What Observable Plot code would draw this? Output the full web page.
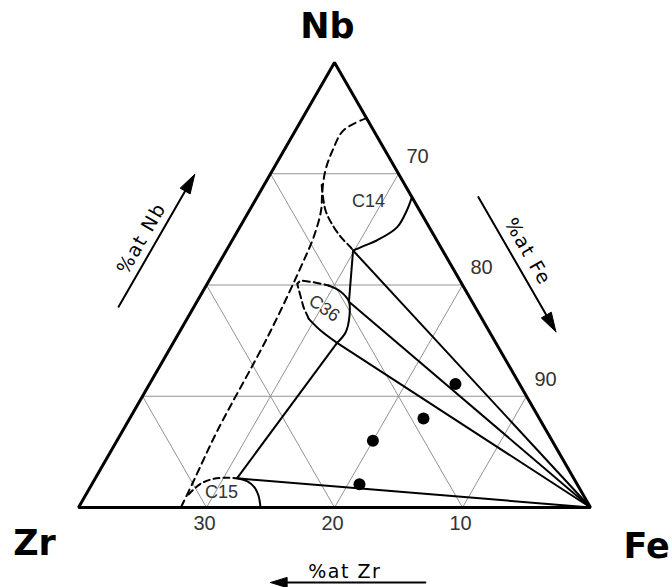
<!DOCTYPE html>
<html><head><meta charset="utf-8">
<script src="https://cdn.jsdelivr.net/npm/d3@7"></script>
<script src="https://cdn.jsdelivr.net/npm/@observablehq/plot@0.6"></script>
<style>body{margin:0;background:#fff} #chart svg{display:block}</style>
</head><body><div id="chart"></div>
<script>
// All compositions are [at.% Nb, at.% Zr]; Fe is the balance.
const gridLevels = [10, 20, 30];
const feTicks = [70, 80, 90];
const zrTicks = [30, 20, 10];
const windowCorners = [[0, 0], [0, 40], [40, 0]]; // Fe, 40Zr-60Fe, 40Nb-60Fe
const boundaryDashed = [[35.0,0],[33.9,2.35],[32.1,4.1],[30.3,5.56],[28.5,6.7],[26.7,7.7],[24.4,9.4],[22.2,11.3],[15.5,17.4],[6.9,25.7],[2.4,29.8],[0,32.0]];
const c14Dashed = [[29.0,6.5],[26.7,7.35],[25.2,7.45],[24.15,7.3],[23.4,7.05],[23.1,7.0]];
const c14Solid = [[23.1,7.0],[23.5,6.0],[24.0,4.7],[25.2,2.5],[26.7,1.0],[27.9,0]];
const c36Dashed = [[16.96,13.53],[18.0,13.42],[20.11,12.86],[20.40,12.46],[20.25,11.52],[19.96,10.49]];
const c36Solid = [[19.96,10.49],[19.42,9.82],[18.5,9.62],[17.17,10.25],[15.73,11.27],[14.8,12.4]];
const c36Lower = [[16.96,13.53],[15.91,13.13],[14.8,12.4]];
const c15Dashed = [[1.17,30.82],[2.13,29.4],[2.58,28.14],[2.67,27.05],[2.62,26.31]];
const c15Solid = [[2.62,26.31],[2.34,25.63],[1.80,25.35],[1.08,25.40],[0,25.78]];
const c14Point = [23.1, 7.0];
const c36Top = [18.5, 9.62];
const c36Bottom = [14.8, 12.4];
const c15Point = [2.62, 26.31];
const feCorner = [0, 0];
const tieEnds = [c14Point, c36Top, c36Bottom, c15Point];
const samples = [[11.1,5.0],[8.0,9.05],[6.0,14.0],[2.1,17.0]];
const phaseLabels = [{name:"C14", c:[27.5,3.6]}, {name:"C36", c:[17.9,11.85]}, {name:"C15", c:[1.35,28.16]}];
const cornerNames = ["Nb", "Zr", "Fe"];
const axisTitles = ["%at Nb", "%at Fe", "%at Zr"];

const S = Math.sqrt(3) / 2;
const xOf = d => -(d[1] + d[0] / 2);
const yOf = d => d[0] * S;

const gridSegs = gridLevels.flatMap(k => [
  [[k, 0], [k, 40 - k]],
  [[0, k], [40 - k, k]],
  [[0, k], [k, 0]]
]);

// edge frames (u,v space) for axis arrows
const Ledge = {p0: [-40, 0], dir: [0.5, S], nrm: [-S, 0.5]};
const Redge = {p0: [-20, 40 * S], dir: [0.5, -S], nrm: [S, 0.5]};
const Bedge = {p0: [0, 0], dir: [-1, 0], nrm: [0, -1]};
const at = (e, s, d) => [e.p0[0] + s * e.dir[0] + d * e.nrm[0], e.p0[1] + s * e.dir[1] + d * e.nrm[1]];
function arrowParts(e, s0, s1, d, hl = 1.5, hw = 0.45) {
  return {
    shaft: [at(e, s0, d), at(e, s1 - hl * 0.7, d)],
    head: [at(e, s1, d), at(e, s1 - hl, d + hw), at(e, s1 - hl, d - hw), at(e, s1, d)]
  };
}
const arrows = [arrowParts(Ledge, 15.1, 27.0, 5.1), arrowParts(Redge, 14.7, 26.8, 4.5), arrowParts(Bedge, 12.9, 25.0, 5.84, 1.3, 0.4)];
const titlePos = [at(Ledge, 20.6, 6.2), at(Redge, 20.3, 5.7), at(Bedge, 19.2, 5.05)];
const titleRot = [-60, 60, 0];

const P = p => p[0], Q = p => p[1];
const lineOpts = (extra) => Object.assign({x: xOf, y: yOf, stroke: "black", strokeWidth: 2, fill: "none"}, extra);
const dash = "7,4";
const numFont = "Liberation Sans, Arial, sans-serif";

const marks = [
  Plot.link(gridSegs, {x1: s => xOf(s[0]), y1: s => yOf(s[0]), x2: s => xOf(s[1]), y2: s => yOf(s[1]), stroke: "#939393", strokeWidth: 1}),
  Plot.line(boundaryDashed, lineOpts({curve: "catmull-rom", strokeDasharray: "7,5"})),
  Plot.line(c14Dashed, lineOpts({curve: "catmull-rom", strokeDasharray: dash})),
  Plot.line(c14Solid, lineOpts({curve: "catmull-rom"})),
  Plot.line(c36Dashed, lineOpts({curve: "linear", strokeDasharray: dash})),
  Plot.line(c36Solid, lineOpts({curve: "catmull-rom"})),
  Plot.line(c36Lower, lineOpts({curve: "catmull-rom"})),
  Plot.line(c15Dashed, lineOpts({curve: "catmull-rom", strokeDasharray: "6,4"})),
  Plot.line(c15Solid, lineOpts({curve: "catmull-rom"})),
  Plot.link([[c14Point, c36Top], [c36Bottom, c15Point]], {x1: s => xOf(s[0]), y1: s => yOf(s[0]), x2: s => xOf(s[1]), y2: s => yOf(s[1]), stroke: "black", strokeWidth: 2}),
  Plot.link(tieEnds, {x1: xOf, y1: yOf, x2: xOf(feCorner), y2: yOf(feCorner), stroke: "black", strokeWidth: 2}),
  Plot.line(windowCorners, {x: xOf, y: yOf, stroke: "black", strokeWidth: 3, fill: "none", strokeLinejoin: "miter", curve: "linear-closed"}),
  Plot.dot(samples, {x: xOf, y: yOf, r: 6, fill: "black", stroke: "none"}),
  Plot.text(feTicks, {x: f => xOf([100 - f, 0]), y: f => yOf([100 - f, 0]), text: f => String(f), dx: 19, dy: -17, fontSize: 20, fontFamily: numFont, fill: "#333"}),
  Plot.text(zrTicks, {x: z => xOf([0, z]), y: z => yOf([0, z]), text: z => String(z), dx: -2, dy: 16, fontSize: 20, fontFamily: numFont, fill: "#333"}),
  Plot.text(phaseLabels, {x: d => xOf(d.c), y: d => yOf(d.c), text: "name", rotate: d => d.name === "C36" ? 35 : 0, fontSize: 18, fontFamily: numFont, fill: "#333"}),
  Plot.text([cornerNames[0]], {x: xOf(windowCorners[2]), y: yOf(windowCorners[2]), text: d => d, dx: -7, dy: -36, fontSize: 35, fontWeight: "bold", fontFamily: "DejaVu Sans, sans-serif", fill: "black"}),
  Plot.text([cornerNames[1]], {x: xOf(windowCorners[1]), y: yOf(windowCorners[1]), text: d => d, dx: -44, dy: 36, fontSize: 35, fontWeight: "bold", fontFamily: "DejaVu Sans, sans-serif", fill: "black"}),
  Plot.text([cornerNames[2]], {x: xOf(windowCorners[0]), y: yOf(windowCorners[0]), text: d => d, dx: 56, dy: 39, fontSize: 35, fontWeight: "bold", fontFamily: "DejaVu Sans, sans-serif", fill: "black"}),
  ...arrows.flatMap(a => [
    Plot.line(a.shaft, {x: P, y: Q, stroke: "black", strokeWidth: 2}),
    Plot.line(a.head, {x: P, y: Q, stroke: "black", strokeWidth: 1, fill: "black", curve: "linear-closed"})
  ]),
  ...axisTitles.map((t, i) => Plot.text([t], {x: titlePos[i][0], y: titlePos[i][1], text: d => d, rotate: titleRot[i], fontSize: 19, fontFamily: "DejaVu Sans, sans-serif", fill: "black"}))
];

const chart = Plot.plot({
  width: 672, height: 587, margin: 0,
  style: {background: "white", overflow: "visible"},
  x: {domain: [-590 / 12.8, 82 / 12.8], axis: null},
  y: {domain: [-80 / 12.846, 507 / 12.846], axis: null},
  marks
});
document.getElementById("chart").appendChild(chart);
d3.select(chart).selectAll("text").filter(function() { return this.textContent.startsWith("%at"); }).attr("letter-spacing", "1.5px");
</script></body></html>
